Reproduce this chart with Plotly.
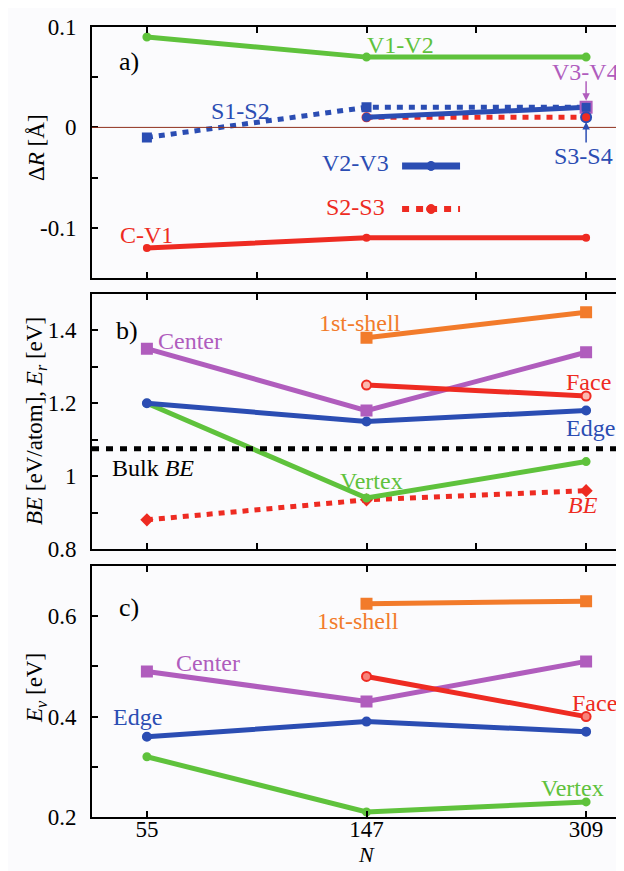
import plotly.graph_objects as go
from plotly.subplots import make_subplots

# ---------------- data ----------------
N_labels = ["55", "147", "309"]
N_idx = [0, 1, 2]

# panel a) bond-length changes ΔR [Å]
dR_V1V2 = [0.09, 0.07, 0.07]
dR_S1S2 = [-0.01, 0.02, 0.02]
dR_V2V3 = [None, 0.01, 0.02]
dR_S2S3 = [None, 0.01, 0.01]
dR_CV1 = [-0.12, -0.11, -0.11]
dR_V3V4 = [None, None, 0.02]
dR_S3S4 = [None, None, 0.01]

# panel b) binding energies / E_r [eV]
Er_center = [1.35, 1.18, 1.34]
Er_edge = [1.20, 1.15, 1.18]
Er_vertex = [1.20, 0.94, 1.04]
Er_shell = [None, 1.38, 1.45]
Er_face = [None, 1.25, 1.22]
BE_cluster = [0.88, 0.935, 0.96]
BE_bulk = 1.075

# panel c) vacancy formation energies E_v [eV]
Ev_shell = [None, 0.625, 0.63]
Ev_center = [0.49, 0.43, 0.51]
Ev_face = [None, 0.48, 0.40]
Ev_edge = [0.36, 0.39, 0.37]
Ev_vertex = [0.32, 0.21, 0.23]

# ---------------- style ----------------
GREEN = "#5fc23c"
BLUE = "#2b4db3"
RED = "#ee2b22"
PURPLE = "#b05dbd"
ORANGE = "#f27b2b"
BG = "#fbfbfd"
FONT = "Liberation Serif"
LW = 5
ASZ = 24   # annotation font size

W, H = 624, 871
fig = make_subplots(rows=3, cols=1, shared_xaxes=False)

def line(x, y, color, row, dash=None, symbol="circle", msize=8, mline=None, mfill=None):
    fig.add_trace(go.Scatter(
        x=x, y=y, mode="lines+markers",
        line=dict(color=color, width=LW, dash=dash),
        marker=dict(symbol=symbol, size=msize, color=mfill or color,
                    line=dict(color=mline or color, width=2)),
        showlegend=False, connectgaps=False), row=row, col=1)

# panel a
line(N_idx, dR_CV1, RED, 1, msize=6)
line(N_idx, dR_S1S2, BLUE, 1, dash="6px,6px", symbol="square", msize=8)
line(N_idx, dR_S2S3, RED, 1, dash="6px,6px", msize=8)
line(N_idx, dR_V2V3, BLUE, 1, msize=7)
line(N_idx, dR_V1V2, GREEN, 1, msize=7)
fig.add_trace(go.Scatter(x=N_idx, y=dR_V3V4, mode="markers",
                         marker=dict(symbol="square-open", size=11, color=PURPLE, line=dict(width=2)),
                         showlegend=False), row=1, col=1)
fig.add_trace(go.Scatter(x=N_idx, y=dR_S3S4, mode="markers",
                         marker=dict(symbol="circle", size=10, color=RED, line=dict(color=BLUE, width=2)),
                         showlegend=False), row=1, col=1)

# panel b
line(N_idx, BE_cluster, RED, 2, dash="6px,6px", symbol="diamond", msize=8)
line(N_idx, Er_vertex, GREEN, 2, msize=7)
line(N_idx, Er_edge, BLUE, 2, msize=8)
line(N_idx, Er_center, PURPLE, 2, symbol="square", msize=10)
line(N_idx, Er_face, RED, 2, msize=9, mfill="#fbb9b0")
line(N_idx, Er_shell, ORANGE, 2, symbol="square", msize=10)

# panel c
line(N_idx, Ev_vertex, GREEN, 3, msize=7)
line(N_idx, Ev_edge, BLUE, 3, msize=8)
line(N_idx, Ev_center, PURPLE, 3, symbol="square", msize=10)
line(N_idx, Ev_face, RED, 3, msize=9, mfill="#f7837a")
line(N_idx, Ev_shell, ORANGE, 3, symbol="square", msize=10)

# reference lines
fig.add_hline(y=0, line=dict(color="#8e2f1c", width=1), row=1, col=1)
fig.add_hline(y=BE_bulk, line=dict(color="black", width=5, dash="7px,7px"), row=2, col=1)

# ---------------- axes ----------------
XR = [-0.25, 2.209]
x0 = 84 / W
domains = [(1 - 270 / H, 1 - 19 / H), (1 - 541 / H, 1 - 286 / H), (1 - 809 / H, 1 - 558 / H)]
yranges = [[-0.15, 0.1], [0.8, 1.5], [0.2, 0.7]]
ytv = [[-0.1, 0, 0.1], [0.8, 1, 1.2, 1.4], [0.2, 0.4, 0.6]]
ytt = [["-0.1", "0", "0.1"], ["0.8", "1", "1.2", "1.4"], ["0.2", "0.4", "0.6"]]
yminor = [[-0.05, 0.05], [0.9, 1.1, 1.3], [0.3, 0.5]]
tickfont = dict(family=FONT, size=23, color="black")

for i in range(3):
    xa = "xaxis" if i == 0 else f"xaxis{i+1}"
    ya = "yaxis" if i == 0 else f"yaxis{i+1}"
    fig.layout[xa].update(
        domain=[x0, 1], range=XR, showgrid=False, zeroline=False,
        showline=True, linewidth=2, linecolor="black", mirror="allticks",
        ticks="inside", ticklen=6, tickwidth=1.5, tickcolor="black",
        tickvals=N_idx, ticktext=N_labels, showticklabels=(i == 2),
        tickfont=tickfont, ticklabelstandoff=-10, automargin=False,
        minor=dict(tickvals=[0.5, 1.5], ticks="inside", ticklen=6, tickwidth=1.5,
                   tickcolor="black") if i < 2 else None,
    )
    fig.layout[ya].update(
        domain=list(domains[i]), range=yranges[i], showgrid=False, zeroline=False,
        showline=True, linewidth=2, linecolor="black", mirror=False,
        ticks="inside", ticklen=6, tickwidth=1.5, tickcolor="black",
        tickvals=ytv[i], ticktext=ytt[i], tickfont=tickfont, ticklabelstandoff=9,
        automargin=False,
        minor=dict(tickvals=yminor[i], ticks="inside", ticklen=6, tickwidth=1.5, tickcolor="black"),
    )

# ---------------- text ----------------
ann = []
def txt(x, y, s, color, ref, size=ASZ, **kw):
    ann.append(dict(x=x, y=y, xref="x" + ref, yref="y" + ref, text=s, showarrow=False,
                    xanchor="center", yanchor="middle",
                    font=dict(family=FONT, size=size, color=color), **kw))

# a)
txt(-0.08, 0.066, "a)", "black", "", size=26)
txt(1.153, 0.082, "V1-V2", GREEN, "")
txt(0.428, 0.0163, "S1-S2", BLUE, "")
txt(1.995, 0.0552, "V3-V4", PURPLE, "")
txt(1.99, -0.0285, "S3-S4", BLUE, "")
txt(0.948, -0.0355, "V2-V3", BLUE, "")
txt(0.948, -0.0793, "S2-S3", RED, "")
txt(0.0, -0.107, "C-V1", RED, "")
# arrows
ann.append(dict(x=2, y=0.0265, xref="x", yref="y", ax=0, ay=-21, text="", showarrow=True,
                arrowhead=2, arrowsize=1, arrowwidth=1.5, arrowcolor=PURPLE))
ann.append(dict(x=2, y=0.0055, xref="x", yref="y", ax=0, ay=22, text="", showarrow=True,
                arrowhead=2, arrowsize=1, arrowwidth=1.5, arrowcolor=BLUE))

# b)
txt(-0.09, 1.401, "b)", "black", "2", size=26)
txt(0.196, 1.371, "Center", PURPLE, "2")
txt(0.97, 1.42, "1st-shell", ORANGE, "2")
txt(2.013, 1.258, "Face", RED, "2")
txt(2.022, 1.132, "Edge", BLUE, "2")
txt(0.028, 1.022, "Bulk <i>BE</i>", "black", "2")
txt(1.025, 0.987, "Vertex", GREEN, "2")
txt(1.986, 0.921, "<i>BE</i>", RED, "2")

# c)
txt(-0.08, 0.617, "c)", "black", "3", size=26)
txt(0.961, 0.591, "1st-shell", ORANGE, "3")
txt(0.278, 0.5075, "Center", PURPLE, "3")
txt(2.04, 0.428, "Face", RED, "3")
txt(-0.045, 0.40, "Edge", BLUE, "3")
txt(1.94, 0.2575, "Vertex", GREEN, "3")

# axis titles
def ptxt(xp, yp, s, angle=0, size=23):
    ann.append(dict(x=xp / W, y=1 - yp / H, xref="paper", yref="paper", text=s,
                    textangle=angle, showarrow=False, xanchor="center", yanchor="middle",
                    font=dict(family=FONT, size=size, color="black")))

ptxt(28, 140, "Δ<i>R</i> [Å]", -90)
ptxt(28, 413, "<i>BE</i> [eV/atom], <i>E<sub>r</sub></i> [eV]", -90)
ptxt(28, 680, "<i>E<sub>v</sub></i> [eV]", -90)
ptxt(358, 846, "<i>N</i>", size=22)

# legend keys inside panel a (style elements)
shapes = [
    dict(type="line", xref="x", yref="y", x0=1.162, x1=1.426, y0=-0.0384, y1=-0.0384,
         line=dict(color=BLUE, width=7)),
    dict(type="line", xref="x", yref="y", x0=1.162, x1=1.426, y0=-0.0813, y1=-0.0813,
         line=dict(color=RED, width=6, dash="7px,7px")),
]
for yv, c in [(-0.0384, BLUE), (-0.0813, RED)]:
    shapes.append(dict(type="circle", xref="x", yref="y", xsizemode="pixel", ysizemode="pixel",
                       xanchor=1.294, yanchor=yv, x0=-4.5, x1=4.5, y0=-4.5, y1=4.5,
                       fillcolor=c, line=dict(color=c, width=1)))

fig.update_layout(
    width=W, height=H, margin=dict(l=0, r=0, t=0, b=0),
    font=dict(family=FONT, color="black"),
    paper_bgcolor=BG, plot_bgcolor=BG, showlegend=False,
    annotations=list(fig.layout.annotations) + ann,
    shapes=list(fig.layout.shapes) + shapes,
)

fig.write_html("out.html")
